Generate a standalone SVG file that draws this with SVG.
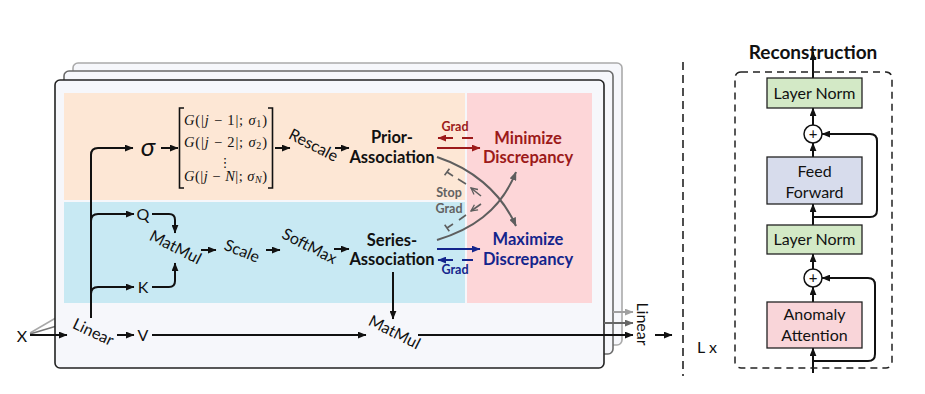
<svg xmlns="http://www.w3.org/2000/svg" width="925" height="394" viewBox="0 0 925 394">
<defs>
<style>
text{font-family:Lato,"Noto Sans","DejaVu Sans",sans-serif;fill:#111}
.t{font-size:16px}
.b{font-size:16.5px;font-weight:bold}
.red{fill:#9c1a1a}
.blue{fill:#14258c}
.gray{fill:#626262}
.g{font-size:12.5px;font-weight:bold}
.m{font-family:"Liberation Serif","DejaVu Serif",serif;font-size:14.5px}
.i{font-style:italic}
.ln{fill:none;stroke:#111;stroke-width:2}
.box{stroke:#222;stroke-width:1.3}
.frame{fill:#f6f7fb;stroke-width:1.6}
</style>
<marker id="a" viewBox="0 0 10 8" refX="9.5" refY="4" markerWidth="9" markerHeight="7" markerUnits="userSpaceOnUse" orient="auto"><path d="M0,0 L10,4 L0,8 z" fill="#111"/></marker>
<marker id="ar" viewBox="0 0 10 8" refX="9.5" refY="4" markerWidth="9" markerHeight="7" markerUnits="userSpaceOnUse" orient="auto"><path d="M0,0 L10,4 L0,8 z" fill="#9c1a1a"/></marker>
<marker id="ab" viewBox="0 0 10 8" refX="9.5" refY="4" markerWidth="9" markerHeight="7" markerUnits="userSpaceOnUse" orient="auto"><path d="M0,0 L10,4 L0,8 z" fill="#14258c"/></marker>
<marker id="ag" viewBox="0 0 10 8" refX="9.5" refY="4" markerWidth="9" markerHeight="7" markerUnits="userSpaceOnUse" orient="auto"><path d="M0,0 L10,4 L0,8 z" fill="#5e5e5e"/></marker>
<marker id="ago" viewBox="0 0 10 10" refX="9" refY="5" markerWidth="8" markerHeight="8" markerUnits="userSpaceOnUse" orient="auto"><path d="M1,1 L9,5 L1,9" fill="none" stroke="#5e5e5e" stroke-width="1.6"/></marker>
<marker id="al" viewBox="0 0 10 8" refX="9.5" refY="4" markerWidth="9" markerHeight="7" markerUnits="userSpaceOnUse" orient="auto"><path d="M0,0 L10,4 L0,8 z" fill="#a0a0a0"/></marker>
<marker id="am" viewBox="0 0 10 8" refX="9.5" refY="4" markerWidth="9" markerHeight="7" markerUnits="userSpaceOnUse" orient="auto"><path d="M0,0 L10,4 L0,8 z" fill="#666"/></marker>
</defs>

<g id="input-fan">
<path d="M30,333 L66,312" stroke="#a8a8a8" stroke-width="1.5" fill="none"/>
<path d="M30,334 L70,322" stroke="#777" stroke-width="1.5" fill="none"/>
</g>

<g id="frames">
<rect class="frame" x="73" y="63" width="549" height="282" rx="5" stroke="#aaa"/>
<rect class="frame" x="64" y="71" width="549" height="283" rx="5" stroke="#6a6a6a"/>
<rect class="frame" x="55" y="80" width="549" height="288" rx="5" stroke="#222" stroke-width="1.8"/>
<rect x="64" y="93" width="401" height="107" fill="#fde7d5"/>
<rect x="64" y="202" width="401" height="101" fill="#c8e9f3"/>
<rect x="467" y="93" width="125" height="210" fill="#fdd6d8"/>
</g>

<g id="connectors">
<path class="ln" d="M30,335 H67" marker-end="url(#a)"/>
<path class="ln" d="M91,318 V155 Q91,148 98,148 H133" marker-end="url(#a)"/>
<path class="ln" d="M91,221 Q91,214 98,214 H134" marker-end="url(#a)"/>
<path class="ln" d="M91,294 Q91,287 98,287 H134" marker-end="url(#a)"/>
<path class="ln" d="M152,214 H169 Q175,214 175,220 V233" marker-end="url(#a)"/>
<path class="ln" d="M152,287 H169 Q175,287 175,281 V263" marker-end="url(#a)"/>
<path class="ln" d="M201,250 H216" marker-end="url(#a)"/>
<path class="ln" d="M266,250 H280" marker-end="url(#a)"/>
<path class="ln" d="M334,249 H349" marker-end="url(#a)"/>
<path class="ln" d="M161,148 H178" marker-end="url(#a)"/>
<path class="ln" d="M275,148 H290" marker-end="url(#a)"/>
<path class="ln" d="M335,148 H349" marker-end="url(#a)"/>
<path class="ln" d="M117,335 H134" marker-end="url(#a)"/>
<path class="ln" d="M152,335 H366" marker-end="url(#a)"/>
<path class="ln" d="M393,272 V319" marker-end="url(#a)"/>
<path class="ln" d="M418,335 H633" marker-end="url(#a)"/>
<path d="M604,323 H633" stroke="#666" stroke-width="2" fill="none" marker-end="url(#am)"/>
<path d="M613,312 H633" stroke="#a0a0a0" stroke-width="2" fill="none" marker-end="url(#al)"/>
<path class="ln" d="M655,335 H672" marker-end="url(#a)"/>
<path d="M437,148 H480" stroke="#9c1a1a" stroke-width="2.2" fill="none" marker-end="url(#ar)"/>
<path d="M473,138 H462 M453,138 H438" stroke="#9c1a1a" stroke-width="2" fill="none" marker-end="url(#ar)"/>
<path d="M437,249 H480" stroke="#14258c" stroke-width="2.2" fill="none" marker-end="url(#ab)"/>
<path d="M473,260 H462 M453,260 H438" stroke="#14258c" stroke-width="2" fill="none" marker-end="url(#ab)"/>
<path d="M437,157 C470,168 500,190 516,226" stroke="#5e5e5e" stroke-width="2" fill="none" marker-end="url(#ag)"/>
<path d="M437,240 C470,230 500,212 516,172" stroke="#5e5e5e" stroke-width="2" fill="none" marker-end="url(#ag)"/>
<path d="M481,196 L471,188" stroke="#5e5e5e" stroke-width="1.6" fill="none" marker-end="url(#ago)"/>
<path d="M466,184 L458,179 M453,176 L447,172 M449.4,168.8 L444.6,175.2" stroke="#5e5e5e" stroke-width="1.6" fill="none"/>
<path d="M481,204 L471,211" stroke="#5e5e5e" stroke-width="1.6" fill="none" marker-end="url(#ago)"/>
<path d="M466,215 L459,220 M453,224 L447,228 M449.3,231.2 L444.7,224.8" stroke="#5e5e5e" stroke-width="1.6" fill="none"/>
<path class="ln" d="M813,78 V52" marker-end="url(#a)"/>
<path class="ln" d="M813,125 V108" marker-end="url(#a)"/>
<path class="ln" d="M813,157 V143" marker-end="url(#a)"/>
<path class="ln" d="M813,225 V204" marker-end="url(#a)"/>
<path class="ln" d="M813,217 H870 Q877,217 877,210 V141 Q877,134 870,134 H822" marker-end="url(#a)"/>
<path class="ln" d="M813,269 V254" marker-end="url(#a)"/>
<path class="ln" d="M813,302 V287" marker-end="url(#a)"/>
<path class="ln" d="M813,373 V348" marker-end="url(#a)"/>
<path class="ln" d="M813,361 H868 Q875,361 875,354 V285 Q875,278 868,278 H822" marker-end="url(#a)"/>
</g>

<g id="x"><text class="t" x="22" y="342" text-anchor="middle" font-size="17">X</text></g>
<g id="linear-in"><text class="t" text-anchor="middle" transform="translate(91,337) rotate(25)">Linear</text></g>
<g id="v"><text class="t" x="143" y="341" text-anchor="middle" font-size="17">V</text></g>
<g id="q"><text class="t" x="143" y="220" text-anchor="middle" font-size="17">Q</text></g>
<g id="k"><text class="t" x="143" y="293" text-anchor="middle" font-size="17">K</text></g>
<g id="sigma"><text x="148" y="156" text-anchor="middle" font-family="'Liberation Serif','DejaVu Serif',serif" font-style="italic" font-size="26">σ</text></g>
<g id="gaussian-matrix">
<path d="M184,108 H179.5 V188 H184" fill="none" stroke="#111" stroke-width="1.6"/>
<path d="M268,108 H272.5 V188 H268" fill="none" stroke="#111" stroke-width="1.6"/>
<text class="m" x="184" y="125" textLength="83" lengthAdjust="spacing"><tspan class="i">G</tspan>(|<tspan class="i">j</tspan> − 1|; <tspan class="i">σ</tspan><tspan font-size="10" dy="2">1</tspan><tspan dy="-2">)</tspan></text>
<text class="m" x="184" y="147" textLength="83" lengthAdjust="spacing"><tspan class="i">G</tspan>(|<tspan class="i">j</tspan> − 2|; <tspan class="i">σ</tspan><tspan font-size="10" dy="2">2</tspan><tspan dy="-2">)</tspan></text>
<text x="225" y="167" text-anchor="middle" font-family="'DejaVu Serif',serif" font-size="13">⋮</text>
<text class="m" x="184" y="181" textLength="83" lengthAdjust="spacing"><tspan class="i">G</tspan>(|<tspan class="i">j</tspan> − <tspan class="i">N</tspan>|; <tspan class="i">σ</tspan><tspan font-size="10" dy="2" class="i">N</tspan><tspan dy="-2">)</tspan></text>
</g>
<g id="rescale"><text class="t" text-anchor="middle" transform="translate(311,150) rotate(27)">Rescale</text></g>
<g id="matmul-qk"><text class="t" text-anchor="middle" transform="translate(173,252) rotate(27)">MatMul</text></g>
<g id="scale"><text class="t" text-anchor="middle" transform="translate(240,256) rotate(22)">Scale</text></g>
<g id="softmax"><text class="t" text-anchor="middle" transform="translate(307,251) rotate(27)">SoftMax</text></g>
<g id="prior-association"><text class="b" x="392" y="143" text-anchor="middle">Prior-</text><text class="b" x="392" y="163" text-anchor="middle">Association</text></g>
<g id="series-association"><text class="b" x="392" y="246" text-anchor="middle">Series-</text><text class="b" x="392" y="265" text-anchor="middle">Association</text></g>
<g id="minimize"><text class="b red" x="528" y="144" text-anchor="middle">Minimize</text><text class="b red" x="528" y="163" text-anchor="middle">Discrepancy</text></g>
<g id="maximize"><text class="b blue" x="528" y="245" text-anchor="middle">Maximize</text><text class="b blue" x="528" y="265" text-anchor="middle">Discrepancy</text></g>
<g id="grad-labels">
<text class="g red" x="455" y="131" text-anchor="middle">Grad</text>
<text class="g blue" x="455" y="274" text-anchor="middle">Grad</text>
<text class="g gray" x="449" y="197" text-anchor="middle">Stop</text>
<text class="g gray" x="449" y="213" text-anchor="middle">Grad</text>
</g>
<g id="matmul-v"><text class="t" text-anchor="middle" transform="translate(392,337) rotate(27)">MatMul</text></g>
<g id="linear-out"><text class="t" text-anchor="middle" transform="translate(637,324) rotate(90)">Linear</text></g>

<g id="separator"><path d="M683,62 V376" stroke="#222" stroke-width="1.6" stroke-dasharray="8,5" fill="none"/></g>
<g id="encoder-block"><rect x="735" y="72" width="157" height="296" rx="6" fill="none" stroke="#222" stroke-width="1.5" stroke-dasharray="7,5"/></g>
<g id="reconstruction"><text x="813" y="59" text-anchor="middle" font-size="19" font-weight="bold">Reconstruction</text></g>
<g id="layer-norm-top"><rect class="box" x="767" y="78" width="95" height="30" fill="#d3e9c6"/><text class="t" x="814.5" y="99" text-anchor="middle">Layer Norm</text></g>
<g id="add-top"><circle cx="813" cy="134" r="9" fill="#fff" stroke="#111" stroke-width="1.5"/><text x="813" y="139" text-anchor="middle" font-size="15">+</text></g>
<g id="feed-forward"><rect class="box" x="767" y="157" width="95" height="47" fill="#d7dcec"/><text class="t" x="814.5" y="177" text-anchor="middle">Feed</text><text class="t" x="814.5" y="198" text-anchor="middle">Forward</text></g>
<g id="layer-norm-mid"><rect class="box" x="767" y="225" width="95" height="29" fill="#d3e9c6"/><text class="t" x="814.5" y="245" text-anchor="middle">Layer Norm</text></g>
<g id="add-bottom"><circle cx="813" cy="278" r="9" fill="#fff" stroke="#111" stroke-width="1.5"/><text x="813" y="283" text-anchor="middle" font-size="15">+</text></g>
<g id="anomaly-attention"><rect class="box" x="767" y="302" width="95" height="46" fill="#f9d5d9"/><text class="t" x="814.5" y="320" text-anchor="middle">Anomaly</text><text class="t" x="814.5" y="341" text-anchor="middle">Attention</text></g>
<g id="lx"><text class="t" x="707" y="353" text-anchor="middle">L x</text></g>
</svg>
